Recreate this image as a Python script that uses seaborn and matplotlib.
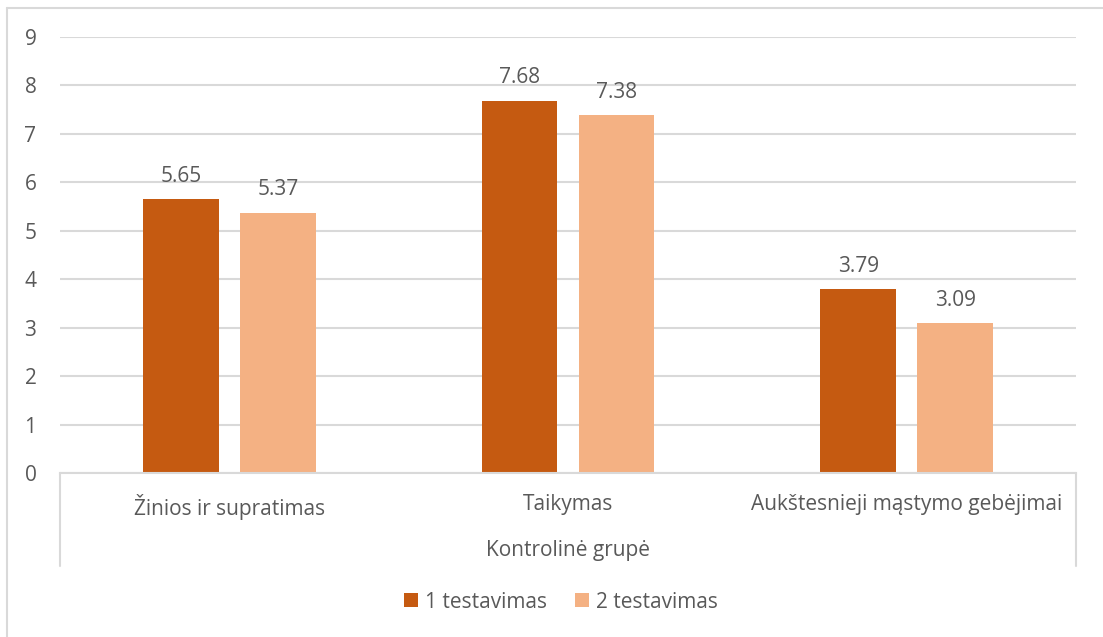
import matplotlib
matplotlib.use("Agg")
import matplotlib.pyplot as plt
import seaborn as sns
import pandas as pd
from matplotlib.lines import Line2D
from matplotlib.patches import Patch

categories = ["Žinios ir supratimas", "Taikymas", "Aukštesnieji mąstymo gebėjimai"]
series_names = ["1 testavimas", "2 testavimas"]
test1 = [5.65, 7.68, 3.79]
test2 = [5.37, 7.38, 3.09]
group_label = "Kontrolinė grupė"
yticks = [0, 1, 2, 3, 4, 5, 6, 7, 8, 9]

colors = ["#C55A11", "#F4B183"]
text_color = "#595959"
grid_color = "#D9D9D9"
fs = 15

df = pd.DataFrame({
    "category": categories * 2,
    "series": [series_names[0]] * 3 + [series_names[1]] * 3,
    "value": test1 + test2,
})

sns.set_theme(style="white")
plt.rcParams["font.family"] = ["Open Sans", "DejaVu Sans"]

fig = plt.figure(figsize=(11.03, 6.37), dpi=100)
ax = fig.add_axes([0.0544, 0.2575, 0.9211, 0.6844])

sns.barplot(data=df, x="category", y="value", hue="series", order=categories,
            hue_order=series_names, palette=colors, width=0.573, gap=0.218,
            saturation=1, linewidth=0, ax=ax, legend=False)

ax.set_ylim(0, 9)
ax.set_xlim(-0.5, 2.5)
ax.set_yticks(yticks)
ax.yaxis.grid(True, color=grid_color, linewidth=1.5)
ax.set_axisbelow(True)
for s in ["top", "right", "left"]:
    ax.spines[s].set_visible(False)
ax.spines["bottom"].set_color(grid_color)
ax.spines["bottom"].set_linewidth(1.5)
ax.tick_params(axis="y", length=0, labelsize=fs, labelcolor=text_color, pad=17)
ax.tick_params(axis="x", length=0, labelsize=fs, labelcolor=text_color, pad=15)
ax.set_xlabel("")
ax.set_ylabel("")

for container in ax.containers:
    ax.bar_label(container, fmt="%.2f", padding=9, fontsize=fs, color=text_color)

# outer separators of the two-level category axis
xt = ax.get_xaxis_transform()
for xb in [-0.5, 2.5]:
    ax.add_line(Line2D([xb, xb], [0, -0.213], transform=xt, color=grid_color,
                       linewidth=1.5, clip_on=False))
ax.text(1, -0.177, group_label, transform=xt, ha="center", va="center",
        fontsize=fs, color=text_color)

handles = [Patch(facecolor=c, edgecolor="none") for c in colors]
fig.legend(handles, series_names, loc="center", bbox_to_anchor=(561 / 1103, 1 - 602 / 637),
           ncol=2, frameon=False, fontsize=fs, labelcolor=text_color,
           handlelength=0.65, handleheight=0.65, handletextpad=0.35, columnspacing=1.35)

# chart frame
fig.add_artist(Line2D([7 / 1103, 7 / 1103], [0, 1 - 8 / 637], transform=fig.transFigure,
                      color=grid_color, linewidth=1.5))
fig.add_artist(Line2D([7 / 1103, 1], [1 - 8 / 637, 1 - 8 / 637], transform=fig.transFigure,
                      color=grid_color, linewidth=1.5))

fig.savefig("out.png", dpi=100, facecolor="white")
